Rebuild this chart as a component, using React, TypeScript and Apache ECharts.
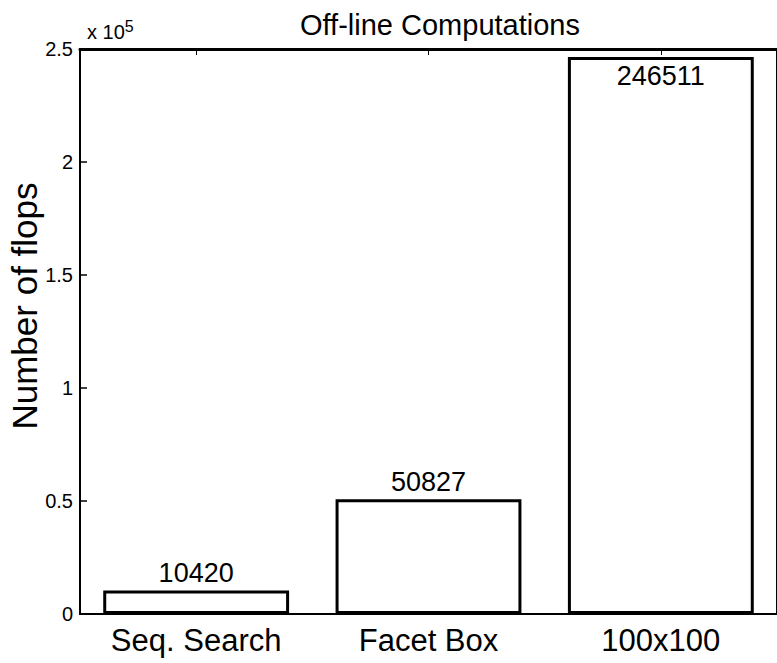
import React, { useEffect, useRef } from "react";
import * as echarts from "echarts";

const categories = ["Seq. Search", "Facet Box", "100x100"];
const flops = [10420, 50827, 246511];
const labelInside = [false, false, true];
const yTicks = [0, 50000, 100000, 150000, 200000, 250000];
const titleText = "Off-line Computations";
const yAxisTitle = "Number of flops";

const FONT = '"Liberation Sans", Arial, Helvetica, sans-serif';

export default function App() {
  const ref = useRef<HTMLDivElement>(null);
  useEffect(() => {
    if (!ref.current) return;
    const chart = echarts.init(ref.current, null, { renderer: "svg" });
    const yMax = yTicks[yTicks.length - 1];
    const interval = yTicks[1] - yTicks[0];
    chart.setOption({
      animation: false,
      backgroundColor: "#ffffff",
      textStyle: { fontFamily: FONT, color: "#000" },
      grid: {
        left: 80,
        top: 49,
        width: 706,
        height: 565,
        show: true,
        borderColor: "#000",
        borderWidth: 2,
        backgroundColor: "transparent",
      },
      xAxis: [
        {
          type: "category",
          data: categories,
          position: "bottom",
          axisLine: { lineStyle: { color: "#000", width: 2 } },
          axisTick: { show: false },
          axisLabel: {
            color: "#000",
            fontSize: 31,
            fontFamily: FONT,
            margin: 11,
          },
        },
        {
          type: "category",
          data: categories,
          position: "top",
          axisLine: { lineStyle: { color: "#000", width: 3 } },
          axisTick: {
            show: true,
            inside: true,
            length: 6,
            alignWithLabel: true,
            lineStyle: { color: "#000", width: 1 },
          },
          axisLabel: { show: false },
        },
      ],
      yAxis: {
        type: "value",
        min: 0,
        max: yMax,
        interval: interval,
        axisLine: { show: true, lineStyle: { color: "#000", width: 1.5 } },
        axisTick: {
          show: true,
          inside: true,
          length: 7,
          lineStyle: { color: "#000", width: 1.5 },
        },
        splitLine: { show: false },
        axisLabel: {
          color: "#000",
          fontSize: 20,
          fontFamily: FONT,
          margin: 7,
          formatter: (v: number) => String(v / 100000),
        },
      },
      series: [
        {
          type: "bar",
          xAxisIndex: 0,
          barWidth: "80%",
          data: flops.map((v, i) => ({
            value: v,
            label: labelInside[i]
              ? { position: "insideTop", distance: 6 }
              : { position: "top", distance: 4 },
          })),
          itemStyle: {
            color: "#ffffff",
            borderColor: "#000",
            borderWidth: 3,
          },
          label: {
            show: true,
            color: "#000",
            fontSize: 27,
            fontFamily: FONT,
          },
        },
      ],
      graphic: [
        {
          type: "text",
          x: 440,
          y: 25,
          style: {
            text: titleText,
            fontSize: 29,
            fontFamily: FONT,
            fill: "#000",
            textAlign: "center",
            textVerticalAlign: "middle",
          },
        },
        {
          type: "text",
          x: 24,
          y: 306,
          rotation: Math.PI / 2,
          style: {
            text: yAxisTitle,
            fontSize: 35,
            fontFamily: FONT,
            fill: "#000",
            textAlign: "center",
            textVerticalAlign: "middle",
          },
        },
        {
          type: "text",
          x: 87,
          y: 46,
          style: {
            text: "x 10{sup|5}",
            fontSize: 20,
            fontFamily: FONT,
            fill: "#000",
            textAlign: "left",
            textVerticalAlign: "bottom",
            rich: {
              sup: {
                fontSize: 16,
                fontFamily: FONT,
                fill: "#000",
                padding: [0, 0, 12, 0],
              },
            },
          },
        },
      ],
    });
    return () => chart.dispose();
  }, []);
  return (
    <div
      ref={ref}
      style={{ position: "fixed", left: 0, top: 0, width: 777, height: 663 }}
    />
  );
}
